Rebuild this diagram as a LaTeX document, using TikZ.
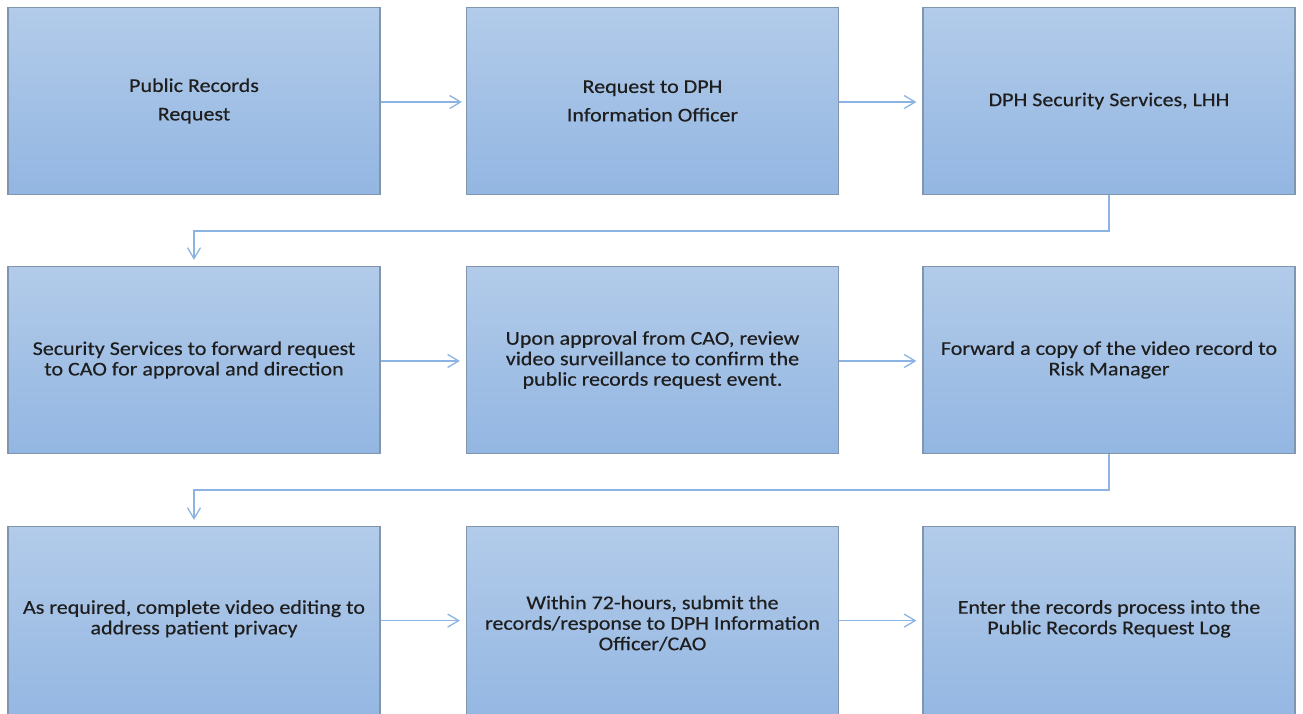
\documentclass[tikz,border=0pt]{standalone}
\usepackage{fontspec}
\setmainfont[FakeStretch=1.13,FakeBold=0.4]{Carlito}
\usetikzlibrary{arrows.meta}
\definecolor{boxtop}{HTML}{B2CBE9}
\definecolor{boxbot}{HTML}{93B6E2}
\definecolor{boxline}{HTML}{8095AE}
\definecolor{arrowcol}{HTML}{8CB4E2}
\definecolor{txt}{HTML}{1E1E1E}
\begin{document}
\begin{tikzpicture}[x=1pt,y=1pt,
  stepbox/.style={rectangle, draw=boxline, line width=1.2pt, top color=boxtop, bottom color=boxbot,
    minimum width=372pt, minimum height=187pt, inner sep=0pt, align=center, text=txt,
    font=\fontsize{19.5}{20.5}\selectfont},
  lastbox/.style={stepbox, minimum height=200pt},
  conn/.style={draw=arrowcol, line width=1.4pt, -{Straight Barb[length=11pt,width=13pt,line width=1.3pt]}}]
\useasboundingbox (0,0) rectangle (1303,713);
\fill[white] (0,0) rectangle (1303,713);
\begin{scope}
\clip (0,0) rectangle (1303,713);
% row 1 (centre y = 713-101 = 612)
\node[stepbox] (b1) at (194,612) {Public Records\\[8pt]Request};
\node[stepbox] (b2) at (652.5,612) {Request to DPH\\[8pt]Information Officer};
\node[stepbox] (b3) at (1109,612) {DPH Security Services, LHH};
% row 2 (centre y = 713-360 = 353)
\node[stepbox] (b4) at (194,353) {Security Services to forward request\\to CAO for approval and direction};
\node[stepbox] (b5) at (652.5,353) {Upon approval from CAO, review\\video surveillance to confirm the\\public records request event.};
\node[stepbox] (b6) at (1109,353) {Forward a copy of the video record to\\Risk Manager};
% row 3 (top at y = 713-526 = 187), extends past the bottom edge
\node[lastbox, anchor=north] (b7) at (194,187) {\raisebox{29pt}{\parbox{370pt}{\centering As required, complete video editing to\\address patient privacy}}};
\node[lastbox, anchor=north] (b8) at (652.5,187) {\raisebox{29pt}{\parbox{370pt}{\centering Within 72-hours, submit the\\records/response to DPH Information\\Officer/CAO}}};
\node[lastbox, anchor=north] (b9) at (1109,187) {\raisebox{29pt}{\parbox{370pt}{\centering Enter the records process into the\\Public Records Request Log}}};
\end{scope}
% horizontal arrows
\draw[conn] ([yshift=-1pt]b1.east) -- ([xshift=-4pt,yshift=-1pt]b2.west);
\draw[conn] ([yshift=-1pt]b2.east) -- ([xshift=-6pt,yshift=-1pt]b3.west);
\draw[conn] ([yshift=-1pt]b4.east) -- ([xshift=-6pt,yshift=-1pt]b5.west);
\draw[conn] ([yshift=-1pt]b5.east) -- ([xshift=-6pt,yshift=-1pt]b6.west);
\draw[conn] ([yshift=6pt]b7.east) -- ([xshift=-6pt,yshift=6pt]b8.west);
\draw[conn] ([yshift=6pt]b8.east) -- ([xshift=-6pt,yshift=6pt]b9.west);
% elbow connectors
\draw[conn] (b3.south) -- ++(0,-36) -| ([yshift=6pt]b4.north);
\draw[conn] (b6.south) -- ++(0,-36) -| ([yshift=6pt]b7.north);
\end{tikzpicture}
\end{document}
